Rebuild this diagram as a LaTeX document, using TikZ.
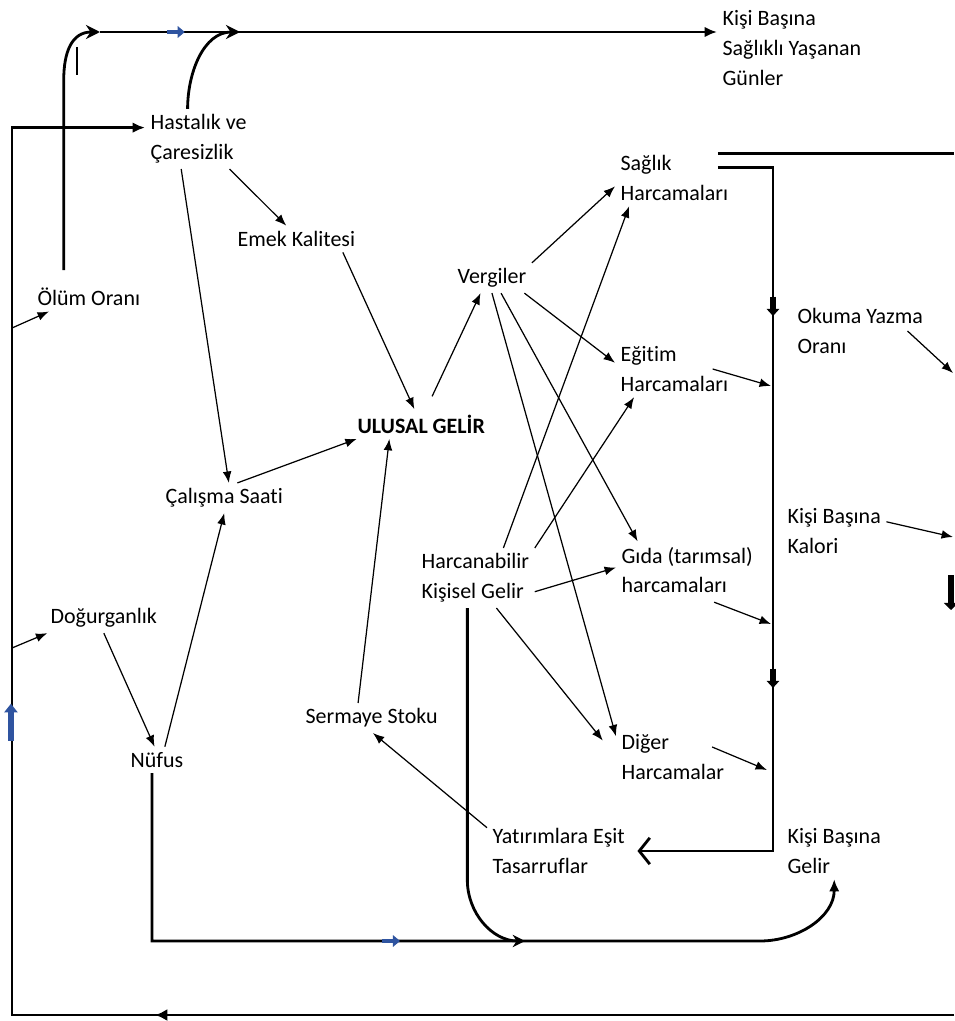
\documentclass[tikz,border=0pt]{standalone}
\usepackage{fontspec}
\setmainfont[Ligatures=NoCommon]{Carlito}
\usetikzlibrary{arrows.meta, decorations.markings}
\definecolor{flowblue}{RGB}{47,84,160}

\begin{document}
\begin{tikzpicture}[x=0.02cm, y=-0.02cm]

\tikzset{box/.style = {anchor=west, align=left, inner sep=3pt, font=\fontsize{12.5}{17}\selectfont}}
\tikzset{edge/.style = {-{Latex[length=6.5pt,width=5pt]}, line width=0.7pt}}
\tikzset{flow/.style = {line width=1.6pt}}
\tikzset{tip/.style = {-{Latex[length=7pt,width=6pt]}}}
\tikzset{bluemark/.style = {postaction={decorate, decoration={markings, mark=at position #1 with {\draw[flowblue, line width=2.4pt, -{Triangle[length=4pt,width=6.5pt]}] (-5pt,0) -- (5pt,0);}}}}}
\tikzset{bluebar/.style = {postaction={decorate, decoration={markings, mark=at position #1 with {\draw[flowblue, line width=3.6pt, -{Triangle[length=5pt,width=7.5pt]}] (-11pt,0.6pt) -- (10pt,0.6pt);}}}}}
\tikzset{blockmark/.style = {postaction={decorate, decoration={markings, mark=at position #1 with {\draw[black, line width=3pt, -{Triangle[length=4pt,width=7pt]}] (-6pt,0) -- (5pt,0);}}}}}
\tikzset{tipmark/.style = {postaction={decorate, decoration={markings, mark=at position #1 with {\arrow{Latex[length=7pt,width=7pt]}}}}}}

\useasboundingbox (0,0) rectangle (954,1021);

%nodes
\node[box] (ksy) at (717,48) {Kişi Başına\\Sağlıklı Yaşanan\\Günler};
\node[box] (hast) at (145,139) {Hastalık ve\\Çaresizlik};
\node[box] (sag) at (615,178) {Sağlık\\Harcamaları};
\node[box] (emek) at (232,239) {Emek Kalitesi};
\node[box] (verg) at (452,278) {Vergiler};
\node[box] (olum) at (32,297) {Ölüm Oranı};
\node[box] (okuma) at (792,331) {Okuma Yazma\\Oranı};
\node[box] (egit) at (615,369) {Eğitim\\Harcamaları};
\node[box, font=\fontsize{12.5}{17}\selectfont\bfseries] (ulusal) at (352,424) {ULUSAL GELİR};
\node[box] (calis) at (160,498) {Çalışma Saati};
\node[box] (kalori) at (782,531) {Kişi Başına\\Kalori};
\node[box] (harc) at (416,578) {Harcanabilir\\Kişisel Gelir};
\node[box] (gida) at (616,570) {Gıda (tarımsal)\\harcamaları};
\node[box] (dogur) at (45,618) {Doğurganlık};
\node[box] (serm) at (300,718) {Sermaye Stoku};
\node[box] (nufus) at (125,760) {Nüfus};
\node[box] (diger) at (616,757) {Diğer\\Harcamalar};
\node[box] (yatir) at (487,851) {Yatırımlara Eşit\\Tasarruflar};
\node[box] (kbg) at (782,851) {Kişi Başına\\Gelir};

%junctions
\coordinate (t1) at (100,32);
\coordinate (t2) at (240,32);
\coordinate (tbend) at (0,80);
\coordinate (redge) at (954,0);
\coordinate (busx) at (773,0);
\coordinate (lx) at (12,0);
\coordinate (rbot) at (954,1015);
\coordinate (l1) at (12,328);
\coordinate (l2) at (12,648);
\coordinate (b1) at (771,386);
\coordinate (b2) at (771,624);
\coordinate (b3) at (767,770);
\coordinate (r1) at (953,373);
\coordinate (r2) at (953,537);
\coordinate (r3) at (951,575);
\coordinate (r4) at (951,610);
\coordinate (nbend) at (760,941);
\coordinate (hbend) at (0,880);
\coordinate (hjoin) at (525,941);
\coordinate (k1) at (77,47);
\coordinate (k2) at (77,75);

%main loops
\draw[flow, -{Stealth[length=8pt,width=8pt]}, shorten <=7pt] (olum.150) -- (olum.150 |- tbend) to[out=90, in=180, looseness=1.2] (t1);
\draw[flow, -{Latex[length=7pt,width=6pt]}, bluemark=1.52cm] (t1) -- (t1 -| ksy.west);
\draw[flow, -{Stealth[length=8pt,width=8pt]}] (hast.110) to[out=90, in=180] (t2);
\draw[line width=0.8pt] (k1) -- (k2);
\draw[flow, tip, tipmark=15.98cm, bluebar=24.72cm] (rbot) -- (rbot -| lx) -- (lx |- hast.168) -- (hast.168);
\draw[flow] ([xshift=-9pt, yshift=-2pt]sag.north east) -- ([yshift=-2pt]sag.north east -| redge);
\draw[flow, -{Straight Barb[length=6pt,width=15pt]}, blockmark=3.9cm, blockmark=11.34cm] ([xshift=-9pt, yshift=-3pt]sag.15) -- ([yshift=-3pt]sag.15 -| busx) -- (busx |- yatir.east) -- ([xshift=4pt]yatir.east);
\draw[flow, tip, bluemark=8.14cm] (nufus.-110) |- (nbend) to[out=0, in=-90] (kbg.south);
\draw[flow, -{Stealth[length=7pt,width=7pt]}] (harc.-105) -- (harc.-105 |- hbend) to[out=-90, in=180] (hjoin);
\draw[line width=3pt, -{Triangle[length=4pt,width=8pt]}] (r3) -- (r4);

%edges
\draw[edge] (l1) -- (olum.-160);
\draw[edge] (l2) -- (dogur.-165);
\draw[edge] (hast.-44) -- (emek.127);
\draw[edge] (hast.-120) -- (calis.73);
\draw[edge] (emek.-16) -- (ulusal.115);
\draw[edge] (calis.49) -- (ulusal.-167);
\draw[edge] (nufus.59) -- (calis.south);
\draw[edge] (dogur.south) -- (nufus.100);
\draw[edge] (serm.132) -- (ulusal.-155);
\draw[edge, shorten <=8pt] (ulusal.72) -- (verg.-127);
\draw[edge] (verg.north east) -- (sag.-172);
\draw[edge] (verg.-25) -- (egit.174);
\draw[edge] (verg.-59) -- (gida.150);
\draw[edge] (verg.-90) -- (diger.160);
\draw[edge] (harc.47) -- (sag.-148);
\draw[edge] (harc.north east) -- (egit.-145);
\draw[edge] (harc.-13) -- (gida.178);
\draw[edge, shorten >=12pt] (harc.-55) -- (diger.west);
\draw[edge] (yatir.162) -- (serm.-85);
\draw[edge] ([xshift=-12pt]egit.east) -- (b1);
\draw[edge] ([xshift=-8pt, yshift=-2pt]gida.-35) -- (b2);
\draw[edge] ([xshift=-10pt]diger.10) -- (b3);
\draw[edge] ([xshift=-12pt]okuma.east) -- (r1);
\draw[edge] (kalori.10) -- (r2);

\end{tikzpicture}
\end{document}
